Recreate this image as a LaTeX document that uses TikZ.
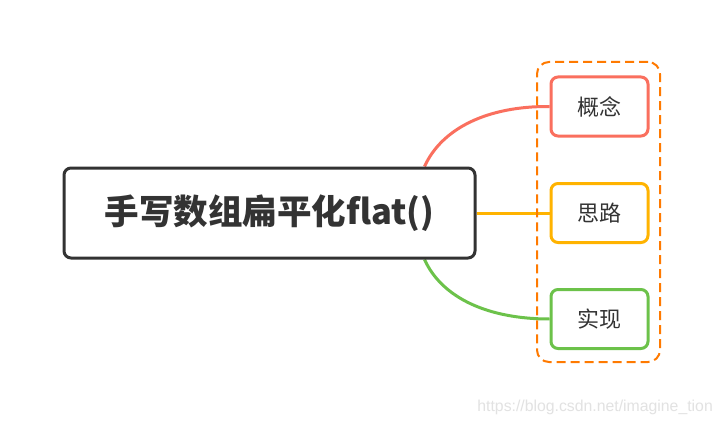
\documentclass[tikz,border=0pt]{standalone}
\usepackage{fontspec}
\usetikzlibrary{backgrounds}
\setmainfont{Noto Sans CJK SC}
\setsansfont{Liberation Sans}
\definecolor{dark}{HTML}{333333}
\definecolor{cred}{HTML}{FA6F5E}
\definecolor{cyel}{HTML}{FFB300}
\definecolor{cgrn}{HTML}{6CC24A}
\definecolor{corg}{HTML}{FF7A00}
\definecolor{wm}{HTML}{E2E2E2}
\begin{document}
\begin{tikzpicture}[x=1pt,y=-1pt,
  mainbox/.style={draw=dark,line width=3pt,rounded corners=7pt,fill=white,
    minimum width=411pt,minimum height=90pt,inner sep=0pt,
    font=\fontsize{34.5}{40}\selectfont\bfseries,text=dark},
  childbox/.style={draw=#1,line width=3pt,rounded corners=7pt,fill=white,
    minimum width=97pt,minimum height=59pt,inner sep=0pt,
    font=\fontsize{22}{26}\selectfont,text=dark},
  link/.style={draw=#1,line width=3pt},
  groupbox/.style={draw=corg,line width=2pt,dash pattern=on 9pt off 5pt,rounded corners=12pt}
]
\useasboundingbox (0,0) rectangle (722,425);
\begin{scope}[on background layer]
\fill[white] (0,0) rectangle (722,425);
\end{scope}
% group frame
\node[groupbox,minimum width=123pt,minimum height=300pt,inner sep=0pt] (grp) at (598.5,212) {};
% nodes
\node[childbox=cred] (c1) at (599.5,106.5) {概念};
\node[childbox=cyel] (c2) at (599.5,213) {思路};
\node[childbox=cgrn] (c3) at (599.5,319) {实现};
\node[mainbox] (main) at (269.5,213) {手写数组扁平化flat()};
% connectors behind the boxes
\begin{scope}[on background layer]
\draw[link=cred] ([xshift=-52pt]main.north east) .. controls (442,128) and (488,106) .. (c1.west);
\draw[link=cgrn] ([xshift=-52pt]main.south east) .. controls (442,298) and (488,319) .. (c3.west);
\draw[link=cyel] (main.east) -- (c2.west);
\end{scope}
% watermark
\node[text=wm,font=\sffamily\fontsize{15.8}{18}\selectfont,anchor=east,inner sep=0pt] (wmk) at (713,407) {https://blog.csdn.net/imagine\_tion};
\end{tikzpicture}
\end{document}
